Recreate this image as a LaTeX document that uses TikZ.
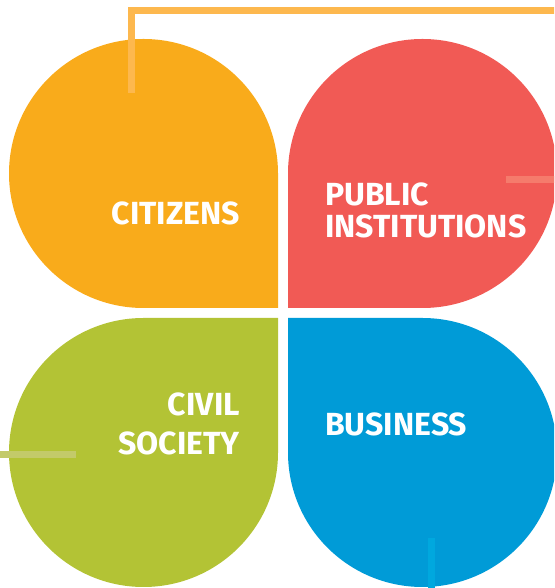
\documentclass[tikz,border=0pt]{standalone}
\usepackage{fontspec}
\setmainfont{Fira Sans}
\definecolor{corange}{HTML}{F9AB1B}
\definecolor{cred}{HTML}{F15A55}
\definecolor{cgreen}{HTML}{B3C335}
\definecolor{cblue}{HTML}{009BD7}
\definecolor{lorange}{HTML}{FDB84E}
\definecolor{lred}{HTML}{F57B6C}
\definecolor{lgreen}{HTML}{C3CA6A}
\definecolor{lblue}{HTML}{00A8DE}
\tikzset{
  label/.style={text=white, font=\fontsize{32}{32}\selectfont\bfseries, inner sep=0pt},
  leader/.style={line width=7pt}
}
\begin{document}
\begin{tikzpicture}[x=1pt,y=1pt]
\useasboundingbox (0,0) rectangle (554,588);
\begin{scope}
\clip (0,0) rectangle (554,588);
% petals
\fill[corange] (278,280) -- (143.5,280) arc[start angle=-90, end angle=-360, radius=134.5] -- cycle;
\fill[cred] (288,280) -- (288,414.5) arc[start angle=180, end angle=-90, radius=134.5] -- cycle;
\fill[cgreen] (278,270) -- (278,135.5) arc[start angle=0, end angle=-270, radius=134.5] -- cycle;
\fill[cblue] (288,270) -- (422.5,270) arc[start angle=90, end angle=-180, radius=134.5] -- cycle;
% leader lines
\coordinate (oa) at (131.5,495);
\coordinate (ob) at (131.5,577.3);
\coordinate (oc) at (560,577.3);
\draw[leader, lorange] (oa) -- (ob) -- (oc);
\coordinate (ra) at (506,408);
\coordinate (rb) at (560,408);
\draw[leader, lred] (ra) -- (rb);
\coordinate (ga) at (-5,133.5);
\coordinate (gb) at (76,133.5);
\draw[leader, lgreen] (ga) -- (gb);
\coordinate (ba) at (431.3,50);
\coordinate (bb) at (431.3,-5);
\draw[leader, lblue] (ba) -- (bb);
\end{scope}
% labels
\node[label, anchor=north east] (citizens) at (240,386) {CITIZENS};
\node[label, anchor=north west, align=left] (public) at (325,405) {PUBLIC\\INSTITUTIONS};
\node[label, anchor=north east, align=right] (civil) at (240,195) {CIVIL\\[7pt]SOCIETY};
\node[label, anchor=north west] (business) at (325,175) {BUSINESS};
\end{tikzpicture}
\end{document}
